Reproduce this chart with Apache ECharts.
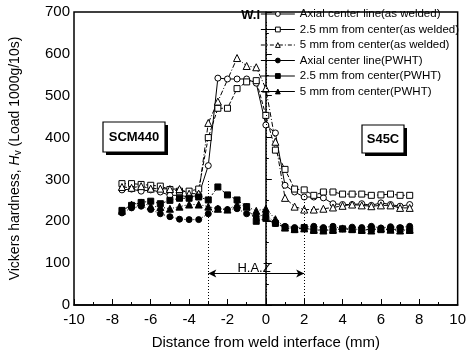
<!DOCTYPE html>
<html><head><meta charset="utf-8">
<script src="https://cdn.jsdelivr.net/npm/echarts@6/dist/echarts.min.js"></script>
<style>html,body{margin:0;padding:0;background:#fff}#c{width:469px;height:355px}</style>
</head><body><div id="c"></div>
<script>
var xs = [-7.5,-7,-6.5,-6,-5.5,-5,-4.5,-4,-3.5,-3,-2.5,-2,-1.5,-1,-0.5,0,0.5,1,1.5,2,2.5,3,3.5,4,4.5,5,5.5,6,6.5,7,7.5];
var awAxial = [275,277,272,275,270,262,262,258,262,333,542,540,540,540,530,430,411,286,270,258,258,256,242,240,240,242,238,244,240,236,240];
var aw25 = [290,290,288,286,284,276,272,272,277,400,470,470,517,533,536,453,370,324,277,275,262,270,270,265,265,265,262,263,265,262,262];
var aw5 = [282,280,284,278,278,277,277,266,266,435,486,null,590,571,568,517,390,256,235,228,228,230,233,237,240,238,236,238,238,232,232];
var pwAxial = [220,232,236,228,218,211,205,204,204,218,230,228,230,218,211,216,195,188,185,186,188,185,188,182,186,185,188,184,187,185,188];
var pw25 = [226,238,245,248,242,250,255,255,258,251,282,263,251,235,200,207,195,185,180,185,178,180,178,182,180,178,182,180,180,182,178];
var pw5 = [225,240,245,236,234,230,235,240,240,235,230,228,240,235,225,230,205,185,182,183,180,178,180,183,182,180,178,183,180,178,180];
var names = ['Axial center line(as welded)','2.5 mm from center(as welded)','5 mm from center(as welded)','Axial center line(PWHT)','2.5 mm from center(PWHT)','5 mm from center(PWHT)'];
var xTicks = [-10,-8,-6,-4,-2,0,2,4,6,8,10];
var yTicks = [0,100,200,300,400,500,600,700];

function pairs(ys){var o=[];for(var i=0;i<xs.length;i++){if(ys[i]!==null)o.push([xs[i],ys[i]]);}return o;}
function mk(name, ys, symbol, filled, ltype){
  return {name:name,type:'line',data:pairs(ys),symbol:symbol,symbolSize:symbol==='triangle'?7:6,
    showSymbol:true,connectNulls:true,
    itemStyle:{color:filled?'#000':'#fff',borderColor:'#000',borderWidth:1},
    lineStyle:{color:'#000',width:1,type:ltype},z:3};
}
var chart = echarts.init(document.getElementById('c'),null,{renderer:'canvas'});
var series = [
  mk(names[0],awAxial,'circle',false,'solid'),
  mk(names[1],aw25,'rect',false,[4,2]),
  mk(names[2],aw5,'triangle',false,[5,2,1,2]),
  mk(names[3],pwAxial,'circle',true,[1,2]),
  mk(names[4],pw25,'rect',true,[2,2]),
  mk(names[5],pw5,'triangle',true,[1,2])
];
series.push({type:'line',data:[],silent:true,
  markLine:{silent:true,symbol:'none',label:{show:false},
    lineStyle:{color:'#000',type:[1,2],width:1},
    data:[
      [{coord:[-3,0]},{coord:[-3,300]}],
      [{coord:[0,0]},{coord:[0,680]}],
      [{coord:[2,0]},{coord:[2,262]}]
    ]}});
series.push({type:'line',data:[],silent:true,
  markLine:{silent:true,symbol:['arrow','arrow'],symbolSize:[6,8],label:{show:false},
    lineStyle:{color:'#000',type:'solid',width:1},
    data:[[{coord:[-3,75]},{coord:[2,75]}]]}});
var fnt = 'Liberation Sans, Arial, sans-serif';
var legendData = names.map(function(n,i){
  return {name:n,
    itemStyle:{color:i<3?'#fff':'#000',borderColor:'#000',borderWidth:1},
    lineStyle:{type:i===2?[4,2,1,2]:'solid',width:1,color:'#000'}};
});
chart.setOption({
  animation:false,
  textStyle:{fontFamily:fnt},
  grid:{left:67,right:8,top:12,bottom:45,show:true,borderColor:'#000',borderWidth:1.5,backgroundColor:'transparent'},
  legend:{data:legendData,right:8,top:8,orient:'vertical',itemWidth:34,itemHeight:6,itemGap:3.5,
    textStyle:{fontSize:11.5,color:'#000',fontFamily:fnt},padding:[0,2,0,0],align:'left'},
  xAxis:{type:'value',min:-10,max:10,interval:2,
    name:'Distance from weld interface (mm)',nameLocation:'middle',nameGap:30,
    nameTextStyle:{fontSize:15,color:'#000'},
    axisLine:{lineStyle:{color:'#000',width:1.5}},
    axisTick:{inside:true,length:6,lineStyle:{color:'#000'}},
    minorTick:{show:true,splitNumber:2,length:3,lineStyle:{color:'#000'}},
    splitLine:{show:false},
    axisLabel:{fontSize:15,color:'#000',margin:7,
      formatter:function(v){return xTicks.indexOf(v)>=0?String(v):'';}}},
  yAxis:{type:'value',min:0,max:700,interval:100,
    name:'{a|Vickers hardness, }{i|H}{s|v}{a| (Load 1000g/10s)}',nameLocation:'middle',nameGap:51,
    nameTextStyle:{rich:{a:{fontSize:14,color:'#000',fontFamily:fnt},i:{fontSize:14,fontStyle:'italic',color:'#000',fontFamily:fnt},s:{fontSize:10,color:'#000',fontFamily:fnt,verticalAlign:'bottom',padding:[6,0,0,0]}}},
    axisLine:{lineStyle:{color:'#000',width:1.5}},
    axisTick:{inside:true,length:6,lineStyle:{color:'#000'}},
    minorTick:{show:true,splitNumber:2,length:3,lineStyle:{color:'#000'}},
    splitLine:{show:false},
    axisLabel:{fontSize:15,color:'#000',margin:4,
      formatter:function(v){return yTicks.indexOf(v)>=0?String(v):'';}}},
  graphic:[
    {type:'rect',shape:{x:106,y:125,width:62,height:30},style:{fill:'#000'},z:10},
    {type:'rect',shape:{x:103,y:122,width:62,height:30},style:{fill:'#fff',stroke:'#000',lineWidth:1.2},z:11},
    {type:'text',x:134,y:137,style:{text:'SCM440',font:'bold 13px '+fnt,fill:'#000',align:'center',verticalAlign:'middle'},z:12},
    {type:'rect',shape:{x:365,y:128,width:42,height:28},style:{fill:'#000'},z:10},
    {type:'rect',shape:{x:362,y:125,width:42,height:28},style:{fill:'#fff',stroke:'#000',lineWidth:1.2},z:11},
    {type:'text',x:383,y:139,style:{text:'S45C',font:'bold 13px '+fnt,fill:'#000',align:'center',verticalAlign:'middle'},z:12},
    {type:'text',x:260,y:15,style:{text:'W.I',font:'bold 13px '+fnt,fill:'#000',align:'right',verticalAlign:'middle'},z:12},
    {type:'text',x:254,y:268,style:{text:'H.A.Z',font:'13px '+fnt,fill:'#000',align:'center',verticalAlign:'middle'},z:12}
  ],
  series:series
});
</script></body></html>
